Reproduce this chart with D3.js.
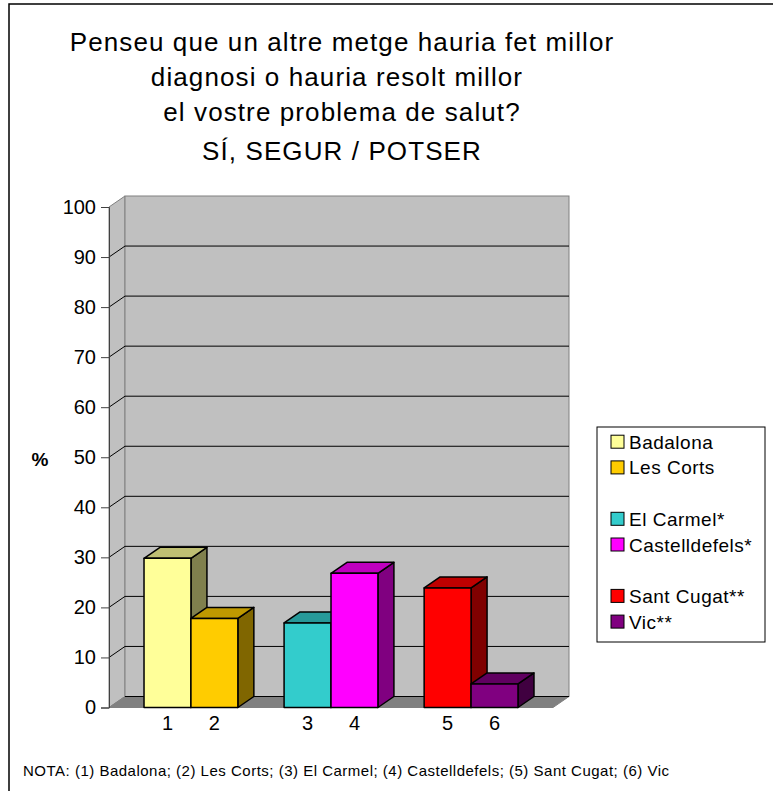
<!DOCTYPE html>
<html>
<head>
<meta charset="utf-8">
<script src="https://cdn.jsdelivr.net/npm/d3@7"></script>
<style>
  body { margin: 0; background: #fff; }
  text { font-family: "Liberation Sans", Arial, Helvetica, sans-serif; fill: #000; }
</style>
</head>
<body>
<script>
// Data
const labels = ["1", "2", "3", "4", "5", "6"];
const names = ["Badalona", "Les Corts", "El Carmel*", "Castelldefels*", "Sant Cugat**", "Vic**"];
const values = [29.8, 17.8, 16.9, 26.8, 23.9, 4.7];
const groups = ["A", "A", "B", "B", "C", "C"];
const fronts = ["#ffff99", "#ffcc00", "#33cccc", "#ff00ff", "#ff0000", "#800080"];
const yTicks = [0, 10, 20, 30, 40, 50, 60, 70, 80, 90, 100];
const titleLines = ["Penseu que un altre metge hauria fet millor", "diagnosi o hauria resolt millor", "el vostre problema de salut?", "SÍ, SEGUR / POTSER"];
const note = "NOTA: (1) Badalona; (2) Les Corts; (3) El Carmel; (4) Castelldefels; (5) Sant Cugat; (6) Vic";

const width = 773, height = 791;
const dx = 16, dy = -11;   // depth of the 3D box

const svg = d3.select("body").append("svg")
    .attr("width", width)
    .attr("height", height);

// outer frame
svg.append("rect")
    .attr("x", 9).attr("y", 4)
    .attr("width", 800).attr("height", 800)
    .attr("fill", "none").attr("stroke", "#000").attr("stroke-width", 1.5);

// Title
svg.append("g").selectAll("text")
    .data(titleLines)
    .join("text")
    .attr("x", (d, i) => i === 1 ? 337 : 342)
    .attr("y", (d, i) => [51, 86, 121, 160][i])
    .attr("text-anchor", "middle")
    .attr("font-size", 26)
    .attr("letter-spacing", 1.1)
    .text(d => d);

// Scales
const left = 109, right = 553;
const y = d3.scaleLinear().domain([0, 100]).range([707.5, 207]);
const x0 = d3.scaleBand().domain(["A", "B", "C"]).range([left, right])
    .paddingInner(0.33).paddingOuter(0.25);
const x1 = d3.scaleBand().domain([0, 1]).range([0, x0.bandwidth()]);

const barX = i => x0(groups[i]) + x1(i % 2);

// Walls
const walls = svg.append("g");
// left wall
walls.append("path")
    .attr("d", `M${left},${y(0)}L${left},${y(100)}L${left + dx},${y(100) + dy}L${left + dx},${y(0) + dy}Z`)
    .attr("fill", "#c0c0c0").attr("stroke", "#808080");
// back wall
walls.append("rect")
    .attr("x", left + dx).attr("y", y(100) + dy)
    .attr("width", right - left).attr("height", y(0) - y(100))
    .attr("fill", "#c0c0c0").attr("stroke", "#808080");
// floor
walls.append("path")
    .attr("d", `M${left},${y(0)}L${right},${y(0)}L${right + dx},${y(0) + dy}L${left + dx},${y(0) + dy}Z`)
    .attr("fill", "#808080").attr("stroke", "#808080");

// Gridlines
const grid = svg.append("g").attr("stroke", "#000").attr("stroke-width", 1);
grid.selectAll("line.back")
    .data(yTicks.filter(d => d < 100))
    .join("line")
    .attr("class", "back")
    .attr("x1", left + dx).attr("x2", right + dx)
    .attr("y1", d => y(d) + dy).attr("y2", d => y(d) + dy);
grid.selectAll("line.side")
    .data(yTicks.filter(d => d > 0 && d < 100))
    .join("line")
    .attr("class", "side")
    .attr("x1", left).attr("x2", left + dx)
    .attr("y1", d => y(d)).attr("y2", d => y(d) + dy);

// Y axis
const yAxis = svg.append("g")
    .attr("transform", `translate(${left},0)`)
    .call(d3.axisLeft(y).tickValues(yTicks).tickSize(8).tickPadding(5));
yAxis.select(".domain").attr("stroke", "#404040");
yAxis.selectAll(".tick line").attr("stroke", "#404040");
yAxis.selectAll(".tick text")
    .attr("font-size", 20)
    .attr("font-family", "Liberation Sans, Arial, Helvetica, sans-serif");

svg.append("text")
    .attr("x", 40).attr("y", 466)
    .attr("text-anchor", "middle")
    .attr("font-size", 19)
    .attr("font-weight", "bold")
    .text("%");

// Bars
const bars = svg.append("g")
    .attr("stroke", "#000").attr("stroke-width", 1.5).attr("stroke-linejoin", "round");
values.forEach((v, i) => {
    const bx = barX(i), bw = x1.bandwidth();
    const top = y(v), base = y(0);
    const c = d3.color(fronts[i]);
    const g = bars.append("g");
    // side face
    g.append("path")
        .attr("d", `M${bx + bw},${base}L${bx + bw},${top}L${bx + bw + dx},${top + dy}L${bx + bw + dx},${base + dy}Z`)
        .attr("fill", d3.rgb(c.r * 0.5, c.g * 0.5, c.b * 0.5).formatHex());
    // top face
    g.append("path")
        .attr("d", `M${bx},${top}L${bx + dx},${top + dy}L${bx + bw + dx},${top + dy}L${bx + bw},${top}Z`)
        .attr("fill", d3.rgb(c.r * 0.75, c.g * 0.75, c.b * 0.75).formatHex());
    // front face
    g.append("rect")
        .attr("x", bx).attr("y", top)
        .attr("width", bw).attr("height", base - top)
        .attr("fill", fronts[i]);
});

// X labels
svg.append("g").selectAll("text")
    .data(labels)
    .join("text")
    .attr("x", (d, i) => barX(i) + x1.bandwidth() / 2)
    .attr("y", 730)
    .attr("text-anchor", "middle")
    .attr("font-size", 20)
    .text(d => d);

// Legend
const legend = svg.append("g");
legend.append("rect")
    .attr("x", 597).attr("y", 427)
    .attr("width", 168).attr("height", 215)
    .attr("fill", "#fff").attr("stroke", "#000").attr("stroke-width", 1);
const rowOf = [0, 1, 3, 4, 6, 7];
const item = legend.selectAll("g.item")
    .data(names)
    .join("g")
    .attr("class", "item")
    .attr("transform", (d, i) => `translate(611,${441.7 + rowOf[i] * 25.7})`);
item.append("rect")
    .attr("x", 0).attr("y", -6.5)
    .attr("width", 13).attr("height", 13)
    .attr("fill", (d, i) => fronts[i])
    .attr("stroke", "#000").attr("stroke-width", 1);
item.append("text")
    .attr("x", 18).attr("y", 7)
    .attr("font-size", 19)
    .attr("letter-spacing", 0.5)
    .text(d => d);

// Note
svg.append("text")
    .attr("x", 23).attr("y", 776)
    .attr("font-size", 15)
    .attr("letter-spacing", 0.5)
    .text(note);
</script>
</body>
</html>
